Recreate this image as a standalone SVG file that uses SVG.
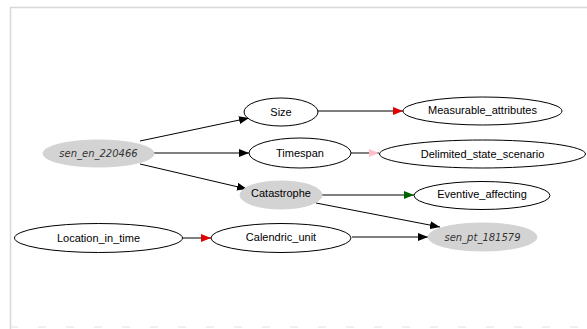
<svg xmlns="http://www.w3.org/2000/svg" width="587" height="329" viewBox="0 0 587 329">
<defs>
<marker id="ab" markerWidth="10" markerHeight="8" refX="10" refY="4" orient="auto" markerUnits="userSpaceOnUse"><path d="M0,0 L10,4 L0,8 Z" fill="#000"/></marker>
<marker id="ar" markerWidth="10" markerHeight="8" refX="10" refY="4" orient="auto" markerUnits="userSpaceOnUse"><path d="M0,0 L10,4 L0,8 Z" fill="#e00000"/></marker>
<marker id="ap" markerWidth="10" markerHeight="8" refX="10" refY="4" orient="auto" markerUnits="userSpaceOnUse"><path d="M0,0 L10,4 L0,8 Z" fill="#ffc0cb"/></marker>
<marker id="ag" markerWidth="10" markerHeight="8" refX="10" refY="4" orient="auto" markerUnits="userSpaceOnUse"><path d="M0,0 L10,4 L0,8 Z" fill="#006400"/></marker>
</defs>
<style>
.n{fill:#fff;stroke:#000;stroke-width:1}
.g{fill:#d3d3d3;stroke:#d3d3d3;stroke-width:1}
text{font-family:"Liberation Sans",Arial,sans-serif;font-size:11px;fill:#000;text-anchor:middle;dominant-baseline:central}
.s{font-family:"DejaVu Sans",sans-serif;font-style:italic;font-size:10px;fill:#333}
.e{fill:none;stroke:#000;stroke-width:1}
</style>
<rect x="0" y="0" width="587" height="329" fill="#fff"/>
<g id="frame">
<line x1="10" y1="7.5" x2="587" y2="7.5" stroke="#d8d8d8" stroke-width="1.5"/>
<line x1="10.5" y1="7" x2="10.5" y2="329" stroke="#d8d8d8" stroke-width="1.5"/>
<line x1="10" y1="327" x2="587" y2="327" stroke="#e0e0e0" stroke-width="1" stroke-dasharray="8,20"/>
</g>
<g id="edges">
<line class="e" x1="140" y1="141" x2="249" y2="118" marker-end="url(#ab)"/>
<line class="e" x1="154" y1="153" x2="249" y2="153" stroke-width="2" marker-end="url(#ab)"/>
<line class="e" x1="140" y1="164" x2="247" y2="189" marker-end="url(#ab)"/>
<line class="e" x1="183" y1="238" x2="211" y2="238" stroke="#e00000" marker-end="url(#ar)"/>
<line class="e" x1="318" y1="111" x2="403" y2="111" stroke="#e00000" marker-end="url(#ar)"/>
<line class="e" x1="351" y1="153" x2="379" y2="153" stroke="#ffc0cb" marker-end="url(#ap)"/>
<line class="e" x1="322" y1="195" x2="414" y2="195" stroke="#006400" marker-end="url(#ag)"/>
<line class="e" x1="316" y1="203" x2="440" y2="227" marker-end="url(#ab)"/>
<line class="e" x1="352" y1="237" x2="428" y2="237" stroke="#333" marker-end="url(#ab)"/>
</g>
<g id="sen_en_220466"><ellipse class="g" cx="98.5" cy="153.5" rx="55.5" ry="13.5"/><text class="s" x="98.5" y="153.5">sen_en_220466</text></g>
<g id="Size"><ellipse class="n" cx="281" cy="112" rx="37" ry="14"/><text x="281" y="112">Size</text></g>
<g id="Timespan"><ellipse class="n" cx="300" cy="153" rx="51" ry="15"/><text x="300" y="153">Timespan</text></g>
<g id="Catastrophe"><ellipse class="g" cx="281" cy="195" rx="41" ry="14"/><text x="281" y="193">Catastrophe</text></g>
<g id="Location_in_time"><ellipse class="n" cx="98.5" cy="238" rx="84" ry="14.5"/><text x="98.5" y="238">Location_in_time</text></g>
<g id="Calendric_unit"><ellipse class="n" cx="281" cy="238" rx="70" ry="14.5"/><text x="281" y="237">Calendric_unit</text></g>
<g id="Measurable_attributes"><ellipse class="n" cx="482.5" cy="111" rx="79.5" ry="14"/><text x="482.5" y="110">Measurable_attributes</text></g>
<g id="Delimited_state_scenario"><ellipse class="n" cx="482.5" cy="154" rx="103" ry="14"/><text x="482.5" y="154">Delimited_state_scenario</text></g>
<g id="Eventive_affecting"><ellipse class="n" cx="482" cy="195.5" rx="68" ry="14"/><text x="482" y="194">Eventive_affecting</text></g>
<g id="sen_pt_181579"><ellipse class="g" cx="482.5" cy="237" rx="54.5" ry="14"/><text class="s" x="482.5" y="237">sen_pt_181579</text></g>
</svg>
